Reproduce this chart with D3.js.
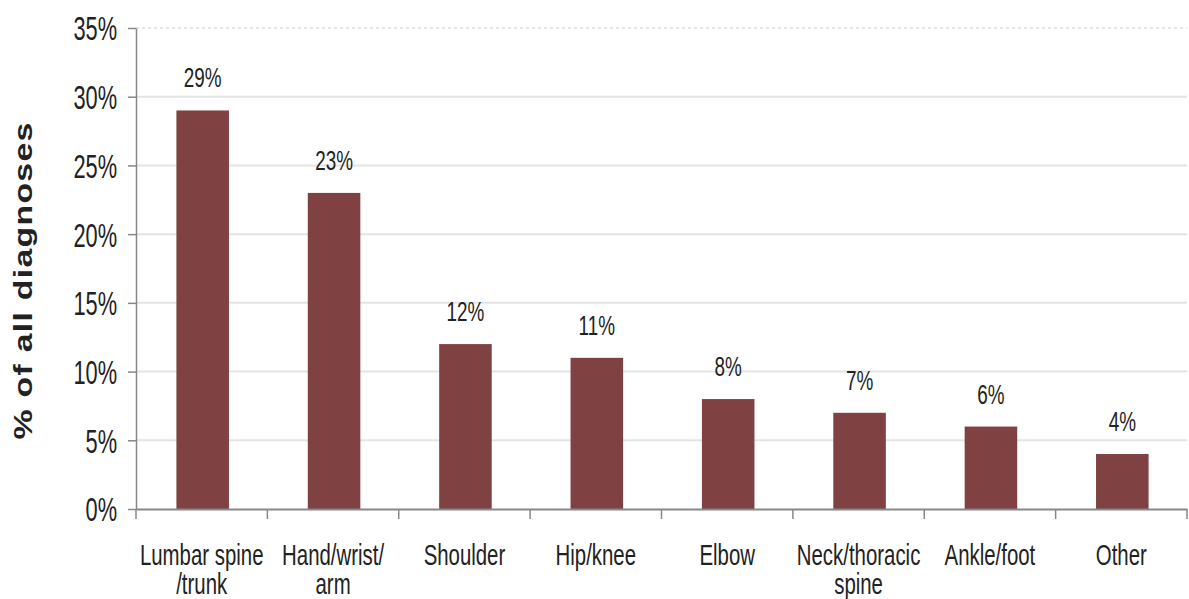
<!DOCTYPE html>
<html>
<head>
<meta charset="utf-8">
<script src="https://cdn.jsdelivr.net/npm/d3@7"></script>
<style>
  body { margin: 0; background: #fff; }
  svg { display: block; }
  .narrow { font-family: "Liberation Sans", Arial, sans-serif; fill: #222; }
</style>
</head>
<body>
<svg id="chart"></svg>
<script>
// data
const categories = [["Lumbar spine", "/trunk"], ["Hand/wrist/", "arm"], ["Shoulder"], ["Hip/knee"],
  ["Elbow"], ["Neck/thoracic", "spine"], ["Ankle/foot"], ["Other"]];
const values = [29, 23, 12, 11, 8, 7, 6, 4];
const yTicks = [0, 5, 10, 15, 20, 25, 30, 35];

const width = 1189, height = 599;
const margin = {top: 28, right: 2, bottom: 90, left: 136};

const svg = d3.select('#chart')
  .attr('width', width)
  .attr('height', height);

const innerW = width - margin.left - margin.right;
const innerH = height - margin.top - margin.bottom;

const chart = svg.append('g')
  .attr('transform', `translate(${margin.left},${margin.top})`);

const keys = categories.map(d => d.join(' '));

const xScale = d3.scaleBand()
  .domain(keys)
  .range([0, innerW])
  .padding(0);

const yScale = d3.scaleLinear()
  .domain([0, 35])
  .range([innerH, 0]);

// gridlines
chart.append('g')
  .selectAll('line')
  .data(yTicks.filter(t => t > 0))
  .join('line')
  .attr('x1', 0)
  .attr('x2', innerW)
  .attr('y1', d => yScale(d))
  .attr('y2', d => yScale(d))
  .attr('stroke', '#e4e4e4')
  .attr('stroke-width', 2)
  .attr('stroke-dasharray', d => d === 35 ? '3,3' : null);

// bars
const barW = xScale.bandwidth() * 0.4;
chart.append('g')
  .selectAll('rect')
  .data(values)
  .join('rect')
  .attr('x', (d, i) => xScale(keys[i]) + (xScale.bandwidth() - barW) / 2 + 1)
  .attr('y', d => yScale(d))
  .attr('width', barW)
  .attr('height', d => innerH - yScale(d))
  .attr('fill', '#7f4141');

// value labels (Arial squeezed to look like the narrow face)
chart.append('g')
  .selectAll('text')
  .data(values)
  .join('text')
  .attr('class', 'narrow')
  .attr('text-anchor', 'middle')
  .attr('font-size', 27)
  .attr('transform', (d, i) => `translate(${xScale(keys[i]) + xScale.bandwidth() / 2 + 1},${yScale(d) - 23}) scale(0.7,1)`)
  .text(d => d + '%');

// y axis
const yAxis = d3.axisLeft(yScale)
  .tickValues(yTicks)
  .tickSize(8)
  .tickSizeOuter(0)
  .tickFormat(d => d + '%');

const yAxisG = chart.append('g').call(yAxis);
yAxisG.select('.domain').attr('stroke', '#888').attr('stroke-width', 1.5);
yAxisG.selectAll('.tick line').attr('stroke', '#888').attr('stroke-width', 1.5);
yAxisG.selectAll('.tick text')
  .attr('class', 'narrow')
  .attr('font-size', 33)
  .attr('x', 0)
  .attr('dy', '0.36em')
  .attr('transform', 'translate(-19,0) scale(0.66,1)');

// x axis
const xAxis = d3.axisBottom(xScale)
  .tickSize(0)
  .tickFormat('');

const xAxisG = chart.append('g')
  .attr('transform', `translate(0,${innerH})`)
  .call(xAxis);
xAxisG.select('.domain').attr('stroke', '#888').attr('stroke-width', 2);

// tick marks sit on the band boundaries
xAxisG.append('g')
  .selectAll('line')
  .data(keys.concat([null]))
  .join('line')
  .attr('x1', (d, i) => i * xScale.step())
  .attr('x2', (d, i) => i * xScale.step())
  .attr('y1', 0)
  .attr('y2', 10)
  .attr('stroke', '#888')
  .attr('stroke-width', 1.5);

// category labels
const catText = xAxisG.append('g')
  .selectAll('text')
  .data(categories)
  .join('text')
  .attr('class', 'narrow')
  .attr('text-anchor', 'middle')
  .attr('font-size', 30)
  .attr('transform', (d, i) => `translate(${xScale(keys[i]) + xScale.bandwidth() / 2},56) scale(0.68,1)`);

catText.selectAll('tspan')
  .data(d => d)
  .join('tspan')
  .attr('x', 0)
  .attr('dy', (d, i) => i === 0 ? 0 : 29)
  .text(d => d);

// y axis title
svg.append('text')
  .attr('transform', `translate(32,${margin.top + innerH / 2 + 12}) rotate(-90) scale(1.3,1)`)
  .attr('text-anchor', 'middle')
  .attr('font-family', '"Liberation Sans", Arial, sans-serif')
  .attr('font-weight', 'bold')
  .attr('font-size', 26)
  .attr('letter-spacing', 1)
  .attr('fill', '#222')
  .text('% of all diagnoses');
</script>
</body>
</html>
